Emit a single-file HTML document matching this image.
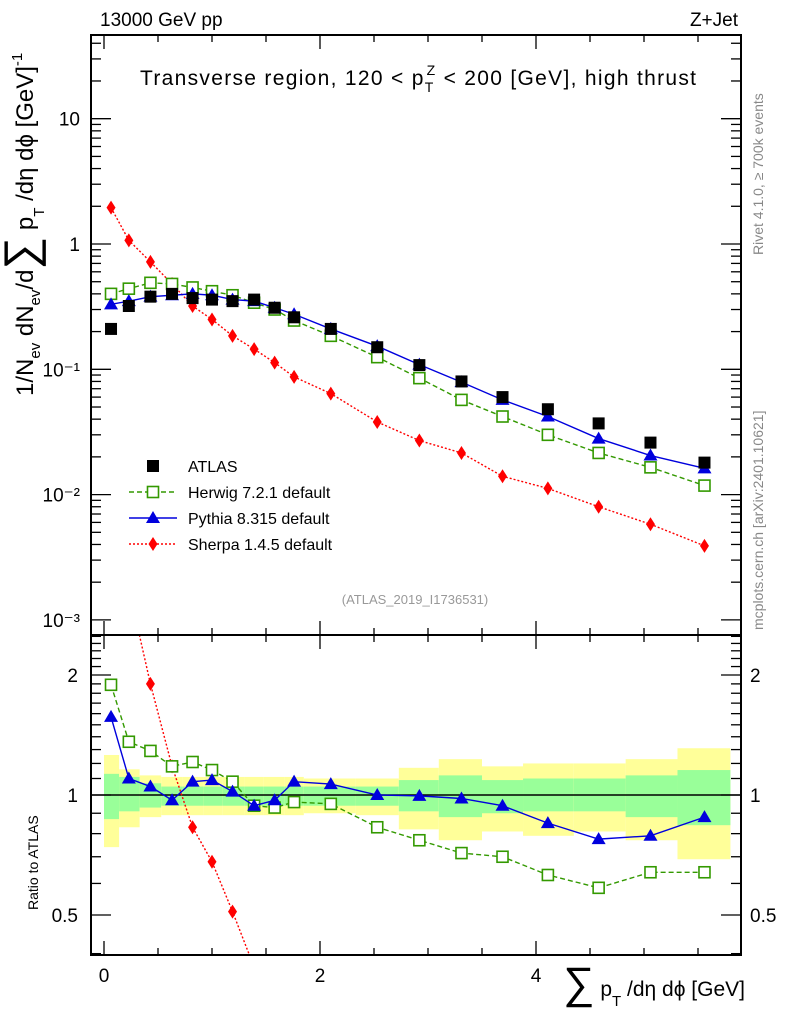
<!DOCTYPE html>
<html><head><meta charset="utf-8"><style>
html,body{margin:0;padding:0;background:#fff;overflow:hidden}
svg{display:block;font-family:"Liberation Sans",sans-serif}
</style></head><body>
<svg id="c" width="786" height="1024" viewBox="0 0 786 1024" xmlns="http://www.w3.org/2000/svg">
<defs>
<clipPath id="cm"><rect x="91" y="35" width="650" height="600"/></clipPath>
<clipPath id="cr"><rect x="91" y="635" width="650" height="320"/></clipPath>
</defs>
<g id="bands" clip-path="url(#cr)"></g>
<g id="marks"></g>
<rect x="91" y="35" width="650" height="600" fill="none" stroke="#000" stroke-width="2"/>
<rect x="91" y="635" width="650" height="320" fill="none" stroke="#000" stroke-width="2"/>
<g id="axes"></g>
<text x="100" y="26" font-size="19">13000 GeV pp</text>
<text x="738" y="26" font-size="19" text-anchor="end">Z+Jet</text>
<text x="140" y="85" font-size="21" textLength="556" lengthAdjust="spacing">Transverse region, 120 &lt; p<tspan font-size="14" dy="7">T</tspan><tspan font-size="14" dx="-8" dy="-17">Z</tspan><tspan dy="10"> &lt; 200 [GeV], high thrust</tspan></text>
<text x="415" y="604" font-size="13" fill="#999" text-anchor="middle">(ATLAS_2019_I1736531)</text>
<text transform="translate(763,255) rotate(-90)" font-size="14" fill="#888">Rivet 4.1.0, ≥ 700k events</text>
<text transform="translate(763,630) rotate(-90)" font-size="14" fill="#888">mcplots.cern.ch [arXiv:2401.10621]</text>
<text transform="translate(33,396) rotate(-90)" font-size="24">1/N<tspan font-size="15" dy="7">ev</tspan><tspan dy="-7"> dN</tspan><tspan font-size="15" dy="7">ev</tspan><tspan dy="-7">/d</tspan><tspan font-size="46" dy="3">∑</tspan><tspan dy="-3"> p</tspan><tspan font-size="15" dy="11">T</tspan><tspan dy="-11"> /dη dϕ  [GeV]</tspan><tspan font-size="15" dy="-11">-1</tspan></text>
<text transform="translate(38,910) rotate(-90)" font-size="14">Ratio to ATLAS</text>
<text x="745" y="996" font-size="21" text-anchor="end"><tspan font-size="44" dy="2">∑</tspan><tspan dy="-2"> p</tspan><tspan font-size="15" dy="10">T</tspan><tspan dy="-10"> /dη dϕ [GeV]</tspan></text>
<g id="legend"></g>
</svg>
<script>
const xCenters=[0.065,0.23,0.43,0.63,0.82,1.0,1.19,1.39,1.58,1.76,2.1,2.53,2.92,3.31,3.69,4.11,4.58,5.06,5.56];
const binEdges=[0,0.14,0.33,0.53,0.73,0.92,1.1,1.3,1.48,1.67,1.85,2.33,2.73,3.1,3.5,3.88,4.35,4.83,5.31,5.8];
const atlas=[0.21,0.32,0.38,0.40,0.37,0.36,0.35,0.36,0.31,0.26,0.21,0.15,0.108,0.080,0.060,0.048,0.037,0.026,0.018];
const herwig=[0.40,0.44,0.49,0.48,0.45,0.42,0.39,0.34,0.30,0.245,0.185,0.125,0.085,0.057,0.042,0.030,0.0215,0.0165,0.0118];
const pythia=[0.33,0.35,0.38,0.39,0.40,0.39,0.36,0.35,0.31,0.275,0.21,0.153,0.109,0.079,0.057,0.042,0.028,0.0205,0.0162];
const sherpa=[1.95,1.07,0.72,0.48,0.32,0.25,0.185,0.145,0.113,0.087,0.064,0.038,0.027,0.0215,0.014,0.0112,0.008,0.0058,0.0039];
const herwigRatio=[1.89,1.36,1.29,1.18,1.21,1.155,1.08,0.94,0.93,0.96,0.95,0.83,0.77,0.715,0.70,0.63,0.585,0.64,0.64];
const pythiaRatio=[1.57,1.10,1.05,0.97,1.08,1.09,1.02,0.94,0.97,1.08,1.065,1.0,0.995,0.98,0.94,0.85,0.775,0.79,0.88];
const sherpaRatio=[9.3,3.3,1.9,1.18,0.83,0.68,0.51,0.37,0.29,0.2,0.15,0.1,0.08,0.07,0.06,0.05,0.04,0.03,0.02];
const yellowUp=[1.26,1.16,1.12,1.11,1.11,1.11,1.11,1.11,1.11,1.11,1.10,1.10,1.17,1.23,1.18,1.20,1.20,1.23,1.31];
const yellowDn=[0.74,0.83,0.88,0.89,0.89,0.89,0.89,0.89,0.89,0.89,0.90,0.89,0.82,0.77,0.81,0.79,0.81,0.77,0.69];
const greenUp=[1.13,1.11,1.07,1.05,1.05,1.05,1.05,1.05,1.05,1.05,1.05,1.05,1.09,1.12,1.09,1.10,1.10,1.12,1.155];
const greenDn=[0.87,0.91,0.93,0.94,0.94,0.94,0.94,0.94,0.94,0.94,0.94,0.94,0.91,0.88,0.90,0.91,0.91,0.88,0.84];
const xTicks=[0,2,4];
const mainTicks=[10,1,0.1,0.01,0.001];
const mainTickLabels=["10","1","10⁻¹","10⁻²","10⁻³"];
const ratioTicks=[2,1,0.5];
const ratioTickLabels=["2","1","0.5"];

const NS="http://www.w3.org/2000/svg";
const X=v=>104+v*108;
const Y=v=>244-Math.log10(v)*125.3;
const R=v=>795-Math.log2(v)*120;
function mk(tag,attrs,parent){const e=document.createElementNS(NS,tag);for(const k in attrs)e.setAttribute(k,attrs[k]);parent.appendChild(e);return e;}
const bands=document.getElementById('bands'),marks=document.getElementById('marks'),axes=document.getElementById('axes'),leg=document.getElementById('legend');

for(let i=0;i<xCenters.length;i++){
  const x0=X(binEdges[i]),w=X(binEdges[i+1])-x0;
  let r=mk('rect',{x:x0,y:R(yellowUp[i]),width:w,height:R(yellowDn[i])-R(yellowUp[i]),fill:'#ffff99'},bands);
  
  
  r=mk('rect',{x:x0,y:R(greenUp[i]),width:w,height:R(greenDn[i])-R(greenUp[i]),fill:'#99ff99'},bands);
  
  
}
let ref=mk('line',{x1:91,x2:741,y1:R(1),y2:R(1),stroke:'#000','stroke-width':1.5},bands);



function marker(kind,x,y,color,parent){
  let e;
  if(kind==='sq') e=mk('rect',{x:x-6,y:y-6,width:12,height:12,fill:'#000'},parent);
  else if(kind==='osq') e=mk('rect',{x:x-5.5,y:y-5.5,width:11,height:11,fill:'#fff',stroke:color,'stroke-width':1.6},parent);
  else if(kind==='tri') e=mk('polygon',{points:`${x},${y-7} ${x-7},${y+5} ${x+7},${y+5}`,fill:color},parent);
  else e=mk('polygon',{points:`${x},${y-7} ${x-4.5},${y} ${x},${y+7} ${x+4.5},${y}`,fill:color},parent);
  return e;
}
function series(vals,yf,clip,color,dash,kind,name){
  const g=mk('g',{'clip-path':`url(#${clip})`},marks);
  
  
  if(dash!==null){
    const pts=vals.map((v,i)=>X(xCenters[i])+','+yf(v)).join(' ');
    const l=mk('polyline',{points:pts,fill:'none',stroke:color,'stroke-width':1.4,'stroke-dasharray':dash},g);
    
    
  }
  vals.forEach((v,i)=>{const m=marker(kind,X(xCenters[i]),yf(v),color,g);
    
    });
}
series(sherpa,Y,'cm','#ff0000','2,2','dia','sherpa-main');
series(herwig,Y,'cm','#339900','5,3','osq','herwig-main');
series(pythia,Y,'cm','#0000dd','','tri','pythia-main');
series(atlas,Y,'cm','#000',null,'sq','atlas-data');
series(sherpaRatio,R,'cr','#ff0000','2,2','dia','sherpa-ratio');
series(herwigRatio,R,'cr','#339900','5,3','osq','herwig-ratio');
series(pythiaRatio,R,'cr','#0000dd','','tri','pythia-ratio');

function line(x1,y1,x2,y2){mk('line',{x1,y1,x2,y2,stroke:'#000','stroke-width':1.3},axes);}
function label(x,y,t,anchor,size){const e=mk('text',{x,y,'font-size':size,'text-anchor':anchor},axes);e.textContent=t;return e;}
for(let v=0;v<=6;v+=0.5){if(X(v)>741)break;const major=v%2===0;const L=major?14:7;
  line(X(v),635,X(v),635-L);line(X(v),35,X(v),35+L);line(X(v),955,X(v),955-L);line(X(v),635,X(v),635+L);}
xTicks.forEach(v=>{const t=label(X(v),982,String(v),'middle',19);
  });
for(let d=-3;d<=1;d++){for(let m=1;m<10;m++){const v=m*Math.pow(10,d);const y=Y(v);if(y<35||y>635)continue;
  const L=m===1?20:10;line(91,y,91+L,y);line(741,y,741-L,y);}}
mainTicks.forEach((v,i)=>{const t=label(80,Y(v)+7,mainTickLabels[i],'end',19);
  });
[0.4,0.5,0.6,0.7,0.8,0.9,1,1.1,1.2,1.3,1.4,1.5,1.6,1.7,1.8,1.9,2,2.1,2.2,2.3,2.4,2.5].forEach(v=>{const y=R(v);if(y<636||y>954)return;
  const L=(v===0.5||v===1||v===2)?20:10;line(91,y,91+L,y);line(741,y,741-L,y);});
ratioTicks.forEach((v,i)=>{let t=label(78,R(v)+7,ratioTickLabels[i],'end',19);
  
  t=label(750,R(v)+7,ratioTickLabels[i],'start',19);
  });
const entries=[['ATLAS','#000',null,'sq'],['Herwig 7.2.1 default','#339900','5,3','osq'],['Pythia 8.315 default','#0000dd','','tri'],['Sherpa 1.4.5 default','#ff0000','2,2','dia']];
entries.forEach((e,i)=>{const y=466+i*26;const g=mk('g',{},leg);
  
  
  if(e[2]!==null)mk('line',{x1:129,x2:177,y1:y,y2:y,stroke:e[1],'stroke-width':1.4,'stroke-dasharray':e[2]},g);
  marker(e[3],153,y,e[1],g);
  const t=mk('text',{x:188,y:y+6,'font-size':16},g);t.textContent=e[0];});
</script>
</body></html>
